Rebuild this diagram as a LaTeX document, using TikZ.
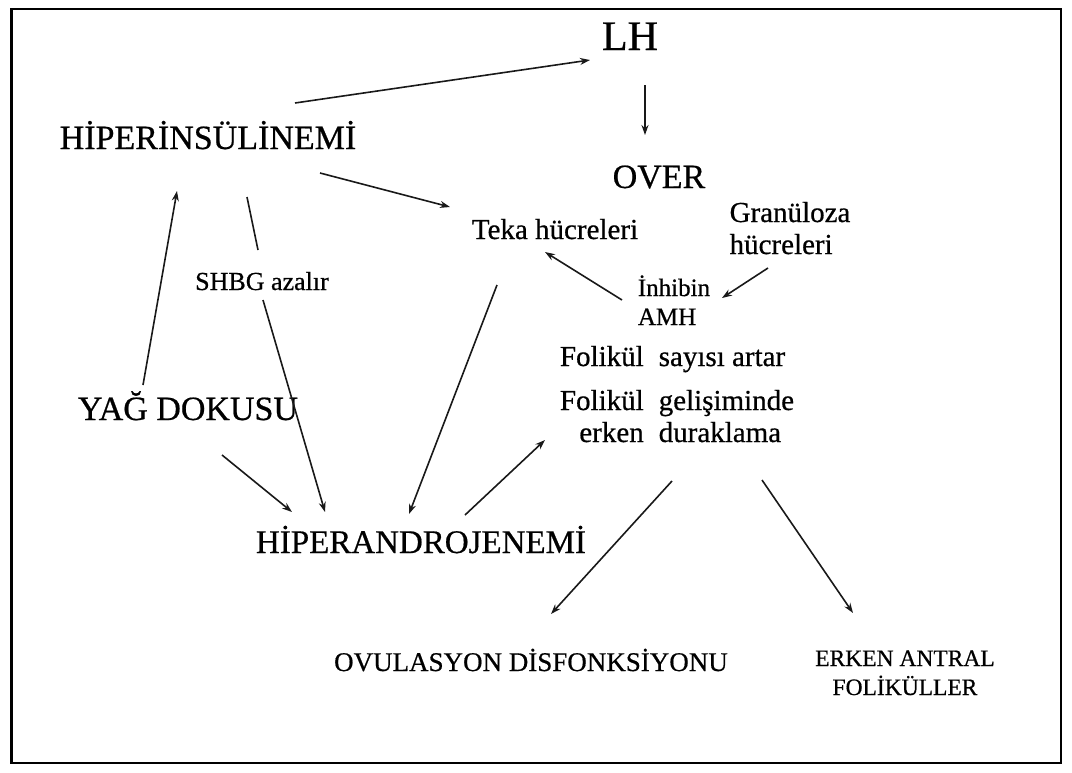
\documentclass[tikz,border=0pt]{standalone}
\usepackage{fontspec}
\setmainfont{Liberation Serif}[FakeBold=0.6]
\usetikzlibrary{arrows.meta, calc}

\begin{document}
\begin{tikzpicture}[
    x=1pt, y=-1pt,
    every node/.style={inner sep=0pt, anchor=base},
    huge/.style={font=\fontsize{42}{48}\selectfont},
    big/.style={font=\fontsize{34}{40}\selectfont},
    mid/.style={font=\fontsize{29}{32}\selectfont},
    small/.style={font=\fontsize{26}{29}\selectfont},
    arr/.style={-{Stealth[length=10pt, width=7pt]}, line width=1.6pt, draw=black!90},
    link/.style={line width=1.6pt, draw=black!90}
]
   \useasboundingbox (0,0) rectangle (1072,772);
   \draw[line width=2.5pt] (11.5,9) rectangle (1061,763);

   % Nodes
   \node[huge] (lh) at (630,50) {LH};
   \node[big] (over) at (659,188) {OVER};
   \node[big] (hiperins) at (208,149) {HİPERİNSÜLİNEMİ};
   \node[mid] (teka) at (555,239) {Teka hücreleri};
   \node[mid] (granuloza) at (790,222) {\begin{tabular}[t]{@{}l@{}}Granüloza\\hücreleri\end{tabular}};
   \node[small, font=\fontsize{25}{29}\selectfont] (inhibin) at (674,296) {\begin{tabular}[t]{@{}l@{}}İnhibin\\AMH\end{tabular}};
   \node[small] (shbg) at (262,290) {SHBG azalır};
   \node[big] (yag) at (188,420) {YAĞ DOKUSU};
   \node[big, font=\fontsize{33}{40}\selectfont] (hiperandro) at (421,553) {HİPERANDROJENEMİ};
   \node[mid] (folikul) at (677,366) {\begin{tabular}[t]{@{}r@{\hspace{15pt}}l@{}}
        Folikül & sayısı artar\\[12pt]
        Folikül & gelişiminde\\
        erken & duraklama\end{tabular}};
   \node[small, font=\fontsize{27}{30}\selectfont] (ovul) at (531,671) {OVULASYON DİSFONKSİYONU};
   \node[small, font=\fontsize{23.5}{29}\selectfont] (erken) at (905,666) {\begin{tabular}[t]{@{}c@{}}ERKEN ANTRAL\\FOLİKÜLLER\end{tabular}};

   % Arrows
   \draw[arr] ($(hiperins.base)+(87,-46)$) -- ($(lh.base)+(-40,10)$);
   \draw[arr] ($(lh.base)+(15,35)$) -- ($(over.base)+(-14,-53)$);
   \draw[arr] ($(hiperins.base)+(112,24)$) -- ($(teka.base)+(-105,-32)$);
   \draw[arr] ($(inhibin.base)+(-52,4)$) -- ($(teka.base)+(-10,13)$);
   \draw[arr] ($(granuloza.base)+(-22,46)$) -- ($(inhibin.base)+(48,2)$);
   \draw[arr] ($(yag.base)+(-45,-35)$) -- ($(hiperins.base)+(-31,42)$);
   \draw[link] ($(hiperins.base)+(39,48)$) -- ($(shbg.base)+(-4,-40)$);
   \draw[arr] ($(shbg.base)+(1,10)$) -- ($(hiperandro.base)+(-96,-41)$);
   \draw[arr] ($(yag.base)+(34,35)$) -- ($(hiperandro.base)+(-129,-41)$);
   \draw[arr] ($(teka.base)+(-58,46)$) -- ($(hiperandro.base)+(-12,-39)$);
   \draw[arr] ($(hiperandro.base)+(44,-38)$) -- ($(folikul.base)+(-132,74)$);
   \draw[arr] ($(folikul.base)+(-5,115)$) -- ($(ovul.base)+(20,-57)$);
   \draw[arr] ($(folikul.base)+(85,114)$) -- ($(erken.base)+(-52,-53)$);

\end{tikzpicture}
\end{document}
